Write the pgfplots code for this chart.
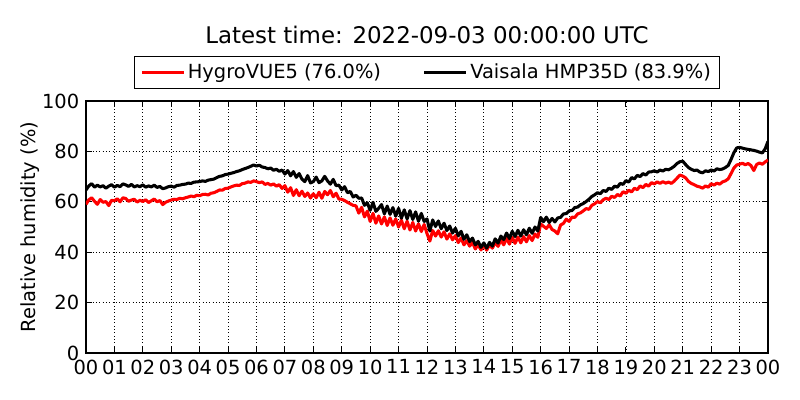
\documentclass[border=0pt]{standalone}
\usepackage{pgfplots}
\pgfplotsset{compat=1.18}
\usepackage{pgfplotstable}
\usepackage{fontspec}
\setmainfont{DejaVu Sans}
\pgfplotstableread{
t B R
0.0 64.7 59.0
0.1 66.3 60.8
0.2 67.2 61.6
0.3 65.8 60.2
0.4 66.6 59.0
0.5 65.9 60.9
0.6 66.4 59.8
0.7 65.4 60.1
0.8 66.2 58.5
0.9 66.8 60.6
1.0 65.8 60.4
1.1 66.5 61.2
1.2 66.0 60.0
1.3 67.1 61.6
1.4 66.7 61.3
1.5 66.1 60.2
1.6 66.9 60.7
1.7 65.9 61.0
1.8 66.4 59.9
1.9 66.0 60.6
2.0 66.7 60.1
2.1 65.8 60.8
2.2 66.3 59.7
2.3 65.9 60.4
2.4 66.6 61.1
2.5 65.7 60.0
2.6 66.1 60.5
2.7 65.2 58.9
2.8 65.5 59.8
2.9 66.0 60.3
3.0 66.2 60.7
3.1 65.8 61.0
3.2 66.5 60.9
3.3 66.6 61.4
3.4 66.9 61.2
3.5 67.0 61.6
3.6 67.4 61.9
3.7 67.3 62.3
3.8 67.8 62.0
3.9 67.9 62.6
4.0 68.0 62.4
4.1 68.3 62.9
4.2 68.1 63.0
4.3 68.6 62.7
4.4 68.8 63.4
4.5 69.0 63.6
4.6 69.6 64.1
4.7 70.1 64.7
4.8 70.3 64.6
4.9 70.8 65.3
5.0 71.0 65.4
5.1 71.3 65.9
5.2 71.6 66.3
5.3 72.0 66.6
5.4 72.3 66.5
5.5 72.8 67.2
5.6 73.2 67.4
5.7 73.6 67.9
5.8 74.1 67.7
5.9 74.6 68.3
6.0 74.2 68.0
6.1 74.5 67.6
6.2 73.8 67.9
6.3 73.6 66.9
6.4 73.1 67.3
6.5 73.4 66.6
6.6 72.5 67.1
6.7 72.9 66.2
6.8 72.1 66.8
6.9 72.6 65.3
7.0 71.0 66.4
7.1 72.4 63.8
7.2 70.3 65.6
7.3 72.0 62.5
7.4 69.7 64.8
7.5 71.2 62.4
7.6 69.0 64.2
7.7 68.0 62.1
7.8 70.4 63.5
7.9 67.5 61.5
8.0 68.0 63.2
8.1 69.8 61.6
8.2 67.6 63.8
8.3 68.3 61.4
8.4 70.1 64.1
8.5 68.3 62.8
8.6 67.0 64.5
8.7 68.9 62.0
8.8 66.4 63.4
8.9 66.6 61.1
9.0 64.7 61.0
9.1 66.0 60.5
9.2 63.6 59.8
9.3 64.1 59.2
9.4 61.9 58.6
9.5 62.6 58.4
9.6 61.4 55.5
9.7 61.5 57.8
9.8 58.6 54.0
9.9 59.6 56.3
10.0 56.6 52.2
10.1 59.8 55.4
10.2 56.2 51.5
10.3 57.4 54.4
10.4 58.9 51.2
10.5 55.2 54.0
10.6 58.3 50.6
10.7 55.0 53.6
10.8 57.7 50.7
10.9 54.3 53.2
11.0 57.4 50.0
11.1 53.5 52.7
11.2 56.8 49.3
11.3 53.2 52.3
11.4 56.5 48.8
11.5 53.0 51.8
11.6 56.0 48.4
11.7 52.3 51.3
11.8 55.4 48.2
11.9 52.2 51.0
12.0 53.2 47.4
12.1 48.4 44.4
12.2 52.8 48.6
12.3 50.2 46.4
12.4 52.4 48.5
12.5 49.3 46.0
12.6 51.5 48.1
12.7 48.6 45.2
12.8 50.4 47.3
12.9 47.6 44.9
13.0 49.5 46.6
13.1 46.5 43.8
13.2 48.3 45.7
13.3 45.1 42.9
13.4 46.9 44.6
13.5 44.2 42.4
13.6 45.6 43.9
13.7 42.9 41.3
13.8 44.3 43.0
13.9 41.9 40.9
14.0 43.7 42.8
14.1 41.6 40.8
14.2 43.9 42.9
14.3 42.4 41.6
14.4 45.3 43.9
14.5 43.6 42.3
14.6 46.4 44.8
14.7 45.0 42.9
14.8 47.6 45.6
14.9 45.4 43.2
15.0 48.3 45.9
15.1 46.2 43.5
15.2 48.7 46.0
15.3 46.4 43.7
15.4 48.9 46.2
15.5 46.9 44.1
15.6 49.5 46.6
15.7 47.5 44.6
15.8 50.0 47.2
15.9 48.4 45.9
16.0 53.8 51.2
16.1 52.1 50.3
16.2 53.9 49.4
16.3 51.8 50.9
16.4 53.4 49.0
16.5 52.0 48.4
16.6 53.6 47.3
16.7 53.8 50.8
16.8 55.2 51.4
16.9 55.3 53.1
17.0 56.4 52.2
17.1 56.5 53.9
17.2 57.7 53.8
17.3 57.9 55.2
17.4 58.8 55.6
17.5 59.3 56.4
17.6 60.1 57.3
17.7 61.0 57.0
17.8 62.1 58.6
17.9 62.8 59.2
18.0 63.6 60.1
18.1 63.2 59.6
18.2 64.5 60.8
18.3 64.1 61.4
18.4 65.4 60.9
18.5 64.9 62.2
18.6 66.2 61.7
18.7 65.8 62.9
18.8 67.3 62.3
18.9 66.9 64.0
19.0 68.4 63.4
19.1 67.8 64.6
19.2 69.6 63.9
19.3 69.1 65.4
19.4 70.5 64.8
19.5 70.0 66.3
19.6 71.2 65.6
19.7 70.6 66.9
19.8 71.8 66.2
19.9 71.9 67.6
20.0 72.3 67.1
20.1 71.8 67.9
20.2 72.6 67.3
20.3 72.2 68.0
20.4 72.9 67.4
20.5 72.7 67.8
20.6 73.3 67.3
20.7 74.1 68.2
20.8 75.2 69.4
20.9 75.9 70.6
21.0 76.1 70.2
21.1 74.8 69.5
21.2 73.6 68.1
21.3 72.9 67.3
21.4 72.4 66.8
21.5 72.6 66.2
21.6 71.8 65.9
21.7 71.5 65.4
21.8 72.3 66.3
21.9 72.0 65.8
22.0 72.6 67.2
22.1 72.2 66.6
22.2 73.1 67.4
22.3 72.8 67.0
22.4 73.0 67.9
22.5 73.6 68.3
22.6 74.4 69.1
22.7 76.8 71.2
22.8 79.5 73.4
22.9 81.4 74.6
23.0 81.6 74.9
23.1 81.3 75.3
23.2 81.0 74.7
23.3 80.8 75.2
23.4 80.6 74.4
23.5 80.4 72.4
23.6 80.1 74.8
23.7 79.7 75.4
23.8 79.4 74.9
23.9 81.0 75.8
24.0 84.0 76.6
}\datatable
\begin{document}
\fontsize{14}{17}\selectfont
\begin{tikzpicture}
\useasboundingbox (-61.92pt,-33.84pt) rectangle (514.08pt,254.16pt);
\begin{axis}[
  at={(0,0)}, anchor=south west,
  scale only axis, width=491.04pt, height=181.44pt,
  xmin=0, xmax=24, ymin=0, ymax=100,
  xtick={0,1,...,24},
  xticklabels={00,01,02,03,04,05,06,07,08,09,10,11,12,13,14,15,16,17,18,19,20,21,22,23,00},
  ytick={0,20,40,60,80,100},
  grid=major,
  major grid style={dotted, black, line width=0.6pt},
  tick align=inside, tick pos=both,
  major tick length=4pt,
  axis line style={line width=0.8pt},
  every tick/.style={black, line width=0.7pt},
  tick label style={font=\fontsize{14}{17}\selectfont},
  /pgf/number format/assume math mode=true,
  ylabel={Relative humidity (\%)},
  ylabel style={at={(axis description cs:-0.082,0.5)}, anchor=center, font=\fontsize{14}{17}\selectfont},
  title={Latest time: 2022-09-03 00:00:00 UTC},
  title style={at={(axis description cs:0.5,1)}, anchor=center, yshift=41.7pt, font=\fontsize{16.5}{20}\selectfont},
  legend columns=2,
  legend style={at={(axis description cs:0.5,1)}, anchor=south, yshift=8.6pt,
    draw=black, line width=0.8pt, font=\fontsize{14}{17}\selectfont,
    inner xsep=4pt, inner ysep=3pt,
    /tikz/every even column/.append style={column sep=28pt}},
  legend image code/.code={\draw[#1, line width=2.2pt] (0pt,0pt) -- (30pt,0pt);},
  legend cell align=left,
]
\addplot[red, line width=2.2pt, line join=round] table[x=t, y=R] {\datatable};
\addlegendentry{HygroVUE5 (76.0\%)}
\addplot[black, line width=2.2pt, line join=round] table[x=t, y=B] {\datatable};
\addlegendentry{Vaisala HMP35D (83.9\%)}
\end{axis}
\end{tikzpicture}
\end{document}
